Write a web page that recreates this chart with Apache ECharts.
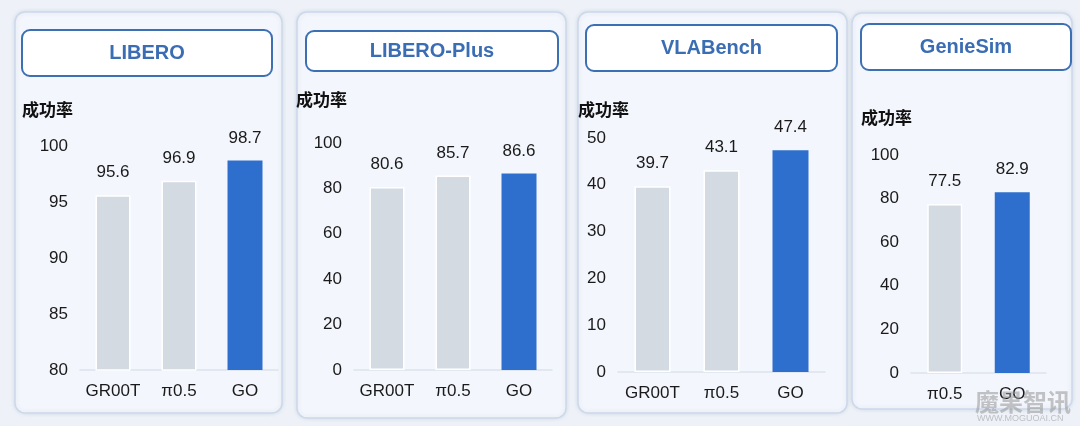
<!DOCTYPE html>
<html>
<head>
    <meta charset="utf-8"/>
    <title>成功率对比</title>
    <script src="https://cdn.jsdelivr.net/npm/echarts@6/dist/echarts.min.js"></script>
    <style>
        html, body { margin: 0; padding: 0; background: #eef2f8; }
        #chart { width: 1080px; height: 426px; }
    </style>
</head>
<body>
<div id="chart"></div>
<script>
    // 数据
    var panelNames = ['LIBERO', 'LIBERO-Plus', 'VLABench', 'GenieSim'];
    var liberoCats = ['GR00T', 'π0.5', 'GO'];
    var liberoVals = [95.6, 96.9, 98.7];
    var liberoPlusCats = ['GR00T', 'π0.5', 'GO'];
    var liberoPlusVals = [80.6, 85.7, 86.6];
    var vlaCats = ['GR00T', 'π0.5', 'GO'];
    var vlaVals = [39.7, 43.1, 47.4];
    var genieCats = ['π0.5', 'GO'];
    var genieVals = [77.5, 82.9];
    var yMins = [80, 0, 0, 0];
    var yMaxs = [100, 100, 50, 100];
    var yIntervals = [5, 20, 10, 20];
    var yName = '成功率';

    var FONT = "'Liberation Sans', Arial, 'Noto Sans CJK SC', sans-serif";
    var GREY = '#d4dae2';
    var BLUE = '#2e6fcd';

    // 布局
    var panels = [
        {x: 15, y: 12, w: 267, h: 401},
        {x: 297, y: 12, w: 269, h: 406},
        {x: 578, y: 12, w: 269, h: 401},
        {x: 852, y: 13, w: 220, h: 396}
    ];
    var boxes = [
        {x: 22, y: 30, w: 250, h: 46},
        {x: 306, y: 31, w: 252, h: 40},
        {x: 586, y: 25, w: 251, h: 46},
        {x: 861, y: 24, w: 210, h: 46}
    ];
    var yNamePos = [[22, 101], [296, 91], [578, 101], [861, 109]];
    var grids = [
        {left: 80, right: 802, top: 146, bottom: 56},
        {left: 354, right: 528, top: 143, bottom: 56},
        {left: 618, right: 255, top: 138, bottom: 54},
        {left: 911, right: 34, top: 155, bottom: 53}
    ];
    var barWidths = [35, 35, 36, 35];
    var cats = [liberoCats, liberoPlusCats, vlaCats, genieCats];
    var vals = [liberoVals, liberoPlusVals, vlaVals, genieVals];

    var graphic = [];
    panels.forEach(function (p) {
        graphic.push({
            type: 'rect', z: 0,
            shape: {x: p.x, y: p.y, width: p.w, height: p.h, r: 10},
            style: {fill: '#f3f6fc', stroke: '#cdd8ea', lineWidth: 1.5,
                shadowBlur: 4, shadowColor: 'rgba(120,140,170,0.18)'}
        });
    });
    boxes.forEach(function (b, i) {
        graphic.push({
            type: 'rect', z: 1,
            shape: {x: b.x, y: b.y, width: b.w, height: b.h, r: 8},
            style: {fill: '#ffffff', stroke: '#3d6fb3', lineWidth: 2}
        });
        graphic.push({
            type: 'text', z: 2,
            x: b.x + b.w / 2, y: b.y + b.h / 2,
            style: {text: panelNames[i], fill: '#3a6db3', font: 'bold 20px ' + FONT,
                textAlign: 'center', textVerticalAlign: 'middle'}
        });
    });
    yNamePos.forEach(function (pos) {
        graphic.push({
            type: 'text', z: 2, x: pos[0], y: pos[1],
            style: {text: yName, fill: '#111', font: "bold 17px 'Noto Sans CJK SC', sans-serif"}
        });
    });
    // 水印
    graphic.push({
        type: 'text', z: 5, x: 975, y: 390,
        style: {text: '魔果智讯', fill: 'rgba(150,150,150,0.55)',
            font: "bold 24px 'Noto Sans CJK SC', sans-serif"}
    });
    graphic.push({
        type: 'text', z: 5, x: 977, y: 414,
        style: {text: 'WWW.MOGUOAI.CN', fill: 'rgba(150,150,150,0.55)',
            font: '9px ' + FONT}
    });

    var option = {
        backgroundColor: '#eef2f8',
        animation: false,
        textStyle: {fontFamily: FONT},
        graphic: graphic,
        grid: grids,
        xAxis: [],
        yAxis: [],
        series: []
    };

    for (var i = 0; i < 4; i++) {
        option.xAxis.push({
            type: 'category', gridIndex: i, data: cats[i],
            axisLine: {lineStyle: {color: '#dde3eb', width: 1.5}},
            axisTick: {show: false},
            axisLabel: {interval: 0, color: '#1a1a1a', fontSize: 17, margin: 13, fontFamily: FONT}
        });
        option.yAxis.push({
            type: 'value', gridIndex: i,
            min: yMins[i], max: yMaxs[i], interval: yIntervals[i],
            splitLine: {show: false},
            axisLine: {show: false},
            axisTick: {show: false},
            axisLabel: {color: '#1a1a1a', fontSize: 17, margin: 12, fontFamily: FONT}
        });
        var n = vals[i].length;
        option.series.push({
            type: 'bar', xAxisIndex: i, yAxisIndex: i,
            barWidth: barWidths[i],
            data: vals[i].map(function (v, k) {
                var last = k === n - 1;
                return {
                    value: v,
                    itemStyle: last ? {color: BLUE} : {color: GREY, borderColor: '#ffffff', borderWidth: 1.5}
                };
            }),
            label: {
                show: true, position: 'top', distance: 14,
                color: '#1a1a1a', fontSize: 17, fontFamily: FONT
            }
        });
    }

    var myChart = echarts.init(document.getElementById('chart'));
    myChart.setOption(option);
</script>
</body>
</html>
